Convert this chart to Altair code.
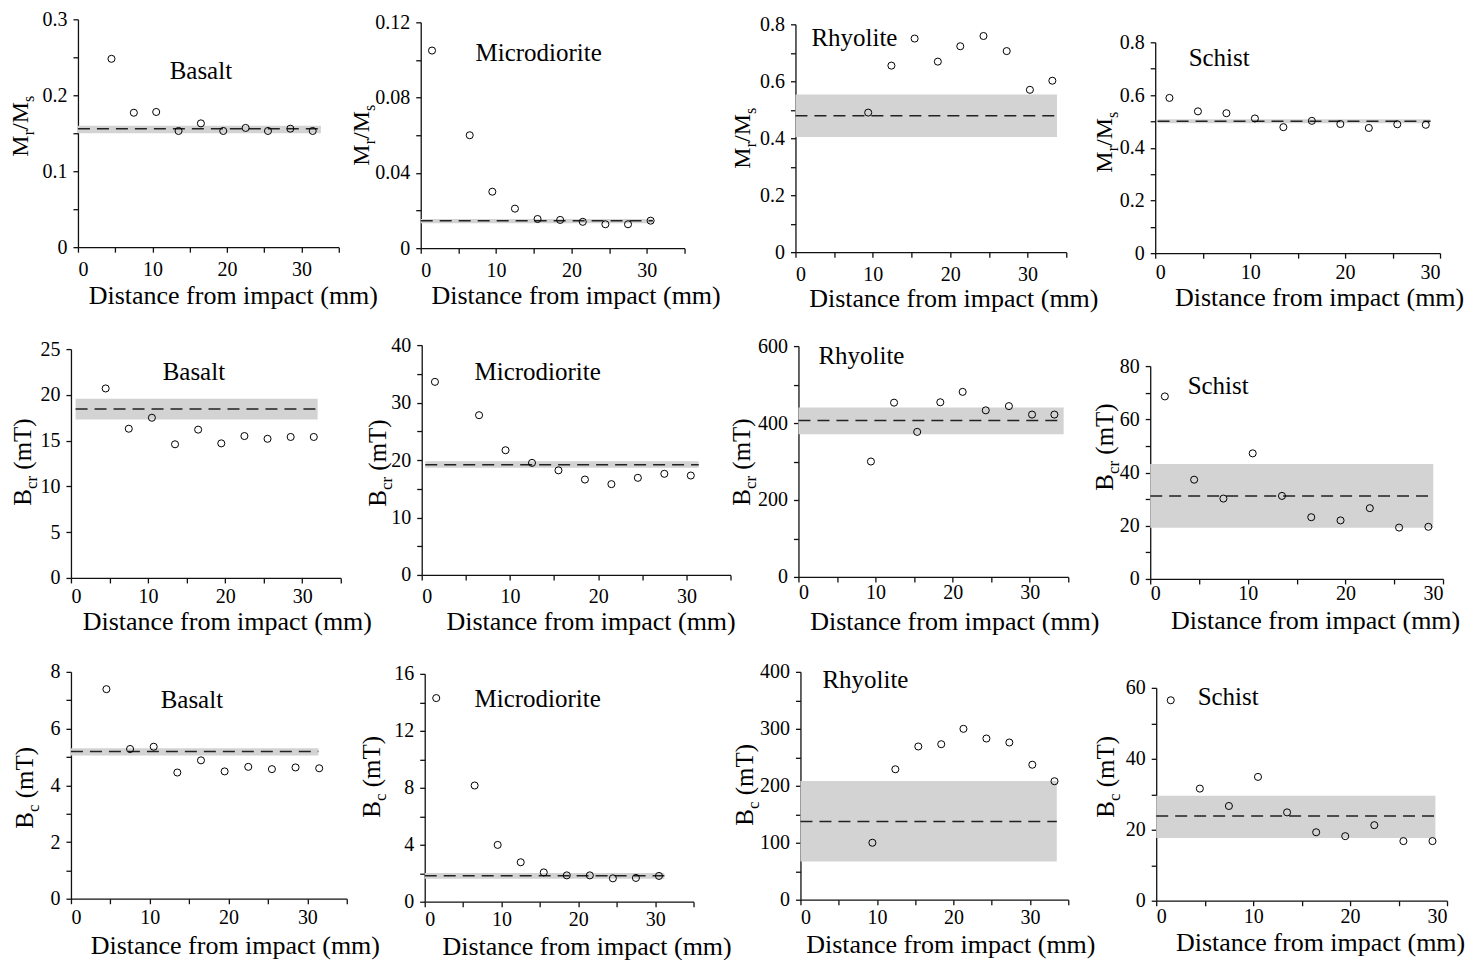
import altair as alt
import pandas as pd

FONT = "Liberation Serif"

# ---- data ---------------------------------------------------------------
rocks = ["Basalt", "Microdiorite", "Rhyolite", "Schist"]

dist_basalt = [4.5, 7.5, 10.5, 13.5, 16.5, 19.5, 22.5, 25.5, 28.5, 31.5]
dist_micro = [1.5, 6.5, 9.5, 12.5, 15.5, 18.5, 21.5, 24.5, 27.5, 30.5]
dist_rhyolite = [9.4, 12.4, 15.4, 18.4, 21.3, 24.3, 27.3, 30.3, 33.2]
dist_schist = [1.5, 4.5, 7.5, 10.5, 13.5, 16.5, 19.5, 22.5, 25.5, 28.5]

# Mr/Ms
mrms_basalt = [0.248, 0.177, 0.178, 0.153, 0.163, 0.153, 0.157, 0.153, 0.156, 0.153]
mrms_micro = [0.105, 0.060, 0.030, 0.021, 0.0155, 0.015, 0.014, 0.0127, 0.0127, 0.0146]
mrms_rhyolite = [0.490, 0.655, 0.750, 0.669, 0.723, 0.759, 0.706, 0.570, 0.602]
mrms_schist = [0.589, 0.538, 0.531, 0.511, 0.478, 0.502, 0.490, 0.475, 0.489, 0.487]

# Bcr (mT)
bcr_basalt = [20.7, 16.3, 17.5, 14.6, 16.2, 14.7, 15.5, 15.2, 15.4, 15.4]
bcr_micro = [33.6, 27.8, 21.7, 19.5, 18.2, 16.6, 15.8, 16.9, 17.6, 17.3]
bcr_rhyolite = [300, 453, 377, 454, 481, 433, 444, 422, 422]
bcr_schist = [68.6, 37.3, 30.2, 47.2, 31.2, 23.2, 22.0, 26.6, 19.3, 19.6]

# Bc (mT)
bc_basalt = [7.39, 5.28, 5.36, 4.45, 4.88, 4.49, 4.65, 4.57, 4.63, 4.60]
bc_micro = [14.3, 8.16, 3.99, 2.77, 2.06, 1.85, 1.85, 1.64, 1.67, 1.81]
bc_rhyolite = [100, 229, 269, 273, 300, 283, 276, 237, 208]
bc_schist = [56.5, 31.6, 26.7, 34.9, 24.9, 19.3, 18.2, 21.3, 16.8, 16.8]

# unshocked reference: mean (dashed line) and range (grey band), panel order
band_mean = [0.156, 0.0145, 0.479, 0.500, 18.45, 19.19, 406.7, 31.2, 5.19, 1.83, 137.2, 23.9]
band_low = [0.150, 0.0132, 0.404, 0.493, 17.32, 18.67, 371, 19.2, 5.05, 1.62, 67.2, 17.7]
band_high = [0.160, 0.0155, 0.554, 0.508, 19.58, 19.77, 440.5, 43.2, 5.31, 2.02, 208.5, 29.6]
band_from = [0.0, 0.0, 0.0, 0.25, 0.6, 0.4, 0.0, 0.0, 0.0, 0.0, 0.0, 0.0]
band_to = [32.6, 30.8, 33.8, 29.0, 32.0, 31.4, 34.4, 29.0, 31.4, 31.2, 33.5, 28.8]

# axis ticks
x_ticks_35 = [0, 5, 10, 15, 20, 25, 30, 35]
x_ticks_30 = [0, 5, 10, 15, 20, 25, 30]
x_labels = [0, 10, 20, 30]

y_ticks = [
    [0, 0.05, 0.1, 0.15, 0.2, 0.25, 0.3],
    [0, 0.02, 0.04, 0.06, 0.08, 0.1, 0.12],
    [0, 0.1, 0.2, 0.3, 0.4, 0.5, 0.6, 0.7, 0.8],
    [0, 0.1, 0.2, 0.3, 0.4, 0.5, 0.6, 0.7, 0.8],
    [0, 5, 10, 15, 20, 25],
    [0, 5, 10, 15, 20, 25, 30, 35, 40],
    [0, 100, 200, 300, 400, 500, 600],
    [0, 10, 20, 30, 40, 50, 60, 70, 80],
    [0, 1, 2, 3, 4, 5, 6, 7, 8],
    [0, 2, 4, 6, 8, 10, 12, 14, 16],
    [0, 50, 100, 150, 200, 250, 300, 350, 400],
    [0, 10, 20, 30, 40, 50, 60],
]
y_labels = [
    [0, 0.1, 0.2, 0.3],
    [0, 0.04, 0.08, 0.12],
    [0, 0.2, 0.4, 0.6, 0.8],
    [0, 0.2, 0.4, 0.6, 0.8],
    [0, 5, 10, 15, 20, 25],
    [0, 10, 20, 30, 40],
    [0, 200, 400, 600],
    [0, 20, 40, 60, 80],
    [0, 2, 4, 6, 8],
    [0, 4, 8, 12, 16],
    [0, 100, 200, 300, 400],
    [0, 20, 40, 60],
]

# y titles as (text, is_subscript) pieces, one per row
y_titles = [
    [("M", False), ("r", True), ("/M", False), ("s", True)],
    [("B", False), ("cr", True), (" (mT)", False)],
    [("B", False), ("c", True), (" (mT)", False)],
]

# ---- layout (page pixels) ------------------------------------------------
# grid cells: column starts / widths, row starts / heights
col_start = [8, 372, 745, 1100]
col_width = [364, 373, 355, 366]
row_start = [8, 300, 630]
row_height = [292, 330, 308]

# plot box of each panel: left, top, width, height
boxes = [
    (77, 19, 261, 228), (420, 22, 264, 226), (795, 24, 271, 228), (1155, 42, 285, 211),
    (70, 349, 270, 229), (421, 345, 309, 230), (798, 346, 270, 231), (1150, 366, 293, 213),
    (70, 672, 276, 227), (424, 674, 269, 228), (800, 672, 268, 228), (1156, 688, 291, 213),
]
rock_label_pos = [
    (123, 52), (118, 31), (59, 14), (64, 16),
    (123, 23), (116, 27), (63, 10), (68, 20),
    (121, 28), (113, 25), (65, 8), (72, 9),
]
x_label_pad = [7, 7, 7, 4, 4, 7, 1, 0, 4, 3, 3, 1]
x_title_pos = [
    (155, 48), (155, 47), (158, 46), (164, 44),
    (156, 44), (169, 47), (156, 45), (165, 42),
    (164, 47), (162, 45), (150, 45), (164, 42),
]
y_title_pos = [
    (-50, 107), (-52, 113), (-45, 114), (-43, 100),
    (-40, 113), (-36, 118), (-48, 116), (-37, 81),
    (-38, 116), (-45, 103), (-47, 113), (-42, 89),
]

TITLE_SIZE = [(24, 16), (25, 17), (25, 17)]   # main / subscript size per row
CHAR_W = {"M": 0.889, "B": 0.667, "/": 0.278, "r": 0.333, "s": 0.389, "c": 0.444,
          " ": 0.25, "(": 0.333, "m": 0.778, "T": 0.611, ")": 0.333}


def text_width(text, size):
    return sum(CHAR_W.get(ch, 0.5) for ch in text) * size


def one_row():
    return pd.DataFrame({"d": [0]})


def y_title_layers(pieces, sizes, bx, cy):
    main, sub = sizes
    total = sum(text_width(t, sub if s else main) for t, s in pieces)
    pos = cy + total / 2
    layers = []
    for t, s in pieces:
        size = sub if s else main
        lead = len(t) - len(t.lstrip())
        pos -= text_width(t[:lead], size)   # svg drops leading blanks
        t = t.lstrip()
        layers.append(
            alt.Chart(one_row())
            .mark_text(text=t, angle=270, align="left", baseline="alphabetic",
                       font=FONT, fontSize=size, color="black")
            .encode(x=alt.value(bx + (6 if s else 0)), y=alt.value(pos))
        )
        pos -= text_width(t, size)
    return layers


def label_expr(labels):
    arr = "[" + ", ".join(str(v) for v in labels) + "]"
    return f"indexof({arr}, datum.value) >= 0 ? format(datum.value, '~g') : ''"


def make_panel(i, dist, vals):
    col = i % 4
    row = i // 4
    left, top, w, h = boxes[i]
    cw, ch = col_width[col], row_height[row]
    dx = left - col_start[col]
    dy = top - row_start[row]
    x_max = 30 if col == 3 else 35
    xt = x_ticks_30 if col == 3 else x_ticks_35
    tx, ty = x_title_pos[i]

    x_axis = alt.Axis(
        values=xt, labelExpr=label_expr(x_labels), offset=-(ch - dy - h),
        labelPadding=x_label_pad[i],
        title="Distance from impact (mm)", titleX=dx + tx, titleY=ty,
        titleBaseline="middle", titleAlign="center",
    )
    y_axis = alt.Axis(values=y_ticks[i], labelExpr=label_expr(y_labels[i]),
                      title="", offset=-dx)
    xs = alt.Scale(domain=[0, x_max], range=[dx, dx + w], nice=False, zero=False)
    ys = alt.Scale(domain=[0, y_ticks[i][-1]], range=[dy + h, dy], nice=False, zero=False)
    x = alt.X("d:Q", scale=xs, axis=x_axis)
    y = alt.Y("v:Q", scale=ys, axis=y_axis)

    band_df = pd.DataFrame({"d": [band_from[i]], "d2": [band_to[i]],
                            "v": [band_low[i]], "v2": [band_high[i]]})
    mean_df = pd.DataFrame({"d": [band_from[i]], "d2": [band_to[i]], "v": [band_mean[i]]})
    pts_df = pd.DataFrame({"d": dist, "v": vals})

    band = alt.Chart(band_df).mark_rect(color="#d3d3d3").encode(
        x=x, x2=alt.X2("d2"), y=y, y2=alt.Y2("v2"))
    mean = alt.Chart(mean_df).mark_rule(
        color="#222", strokeWidth=1.5, strokeDash=[12, 7]).encode(x=x, x2=alt.X2("d2"), y=y)
    pts = alt.Chart(pts_df).mark_point(
        shape="circle", filled=False, size=50, color="black", strokeWidth=1, opacity=1
    ).encode(x=x, y=y)

    lx, ly = rock_label_pos[i]
    name = alt.Chart(one_row()).mark_text(
        text=rocks[col], font=FONT, fontSize=25, align="center", baseline="middle",
        color="black").encode(x=alt.value(dx + lx), y=alt.value(dy + ly))

    bx, cy = y_title_pos[i]
    layers = [band, mean, pts, name] + y_title_layers(
        y_titles[row], TITLE_SIZE[row], dx + bx, dy + cy)
    return alt.layer(*layers).properties(width=cw, height=ch)


series = [
    (dist_basalt, mrms_basalt), (dist_micro, mrms_micro),
    (dist_rhyolite, mrms_rhyolite), (dist_schist, mrms_schist),
    (dist_basalt, bcr_basalt), (dist_micro, bcr_micro),
    (dist_rhyolite, bcr_rhyolite), (dist_schist, bcr_schist),
    (dist_basalt, bc_basalt), (dist_micro, bc_micro),
    (dist_rhyolite, bc_rhyolite), (dist_schist, bc_schist),
]
panels = [make_panel(i, d, v) for i, (d, v) in enumerate(series)]

chart = (
    alt.concat(*panels, columns=4, spacing=0, bounds="flush")
    .properties(padding=0, background="white")
    .configure_view(stroke=None)
    .configure_axis(
        grid=False, domainColor="#111", domainWidth=1.3, tickColor="#111", tickWidth=1.3,
        tickSize=5, labelFont=FONT, labelFontSize=20, labelColor="black",
        titleFont=FONT, titleFontSize=26, titleFontWeight="normal", titleColor="black",
    )
    .configure_axisY(labelPadding=6)
)

chart.save("out.html", embed_options={"renderer": "svg", "actions": False})
